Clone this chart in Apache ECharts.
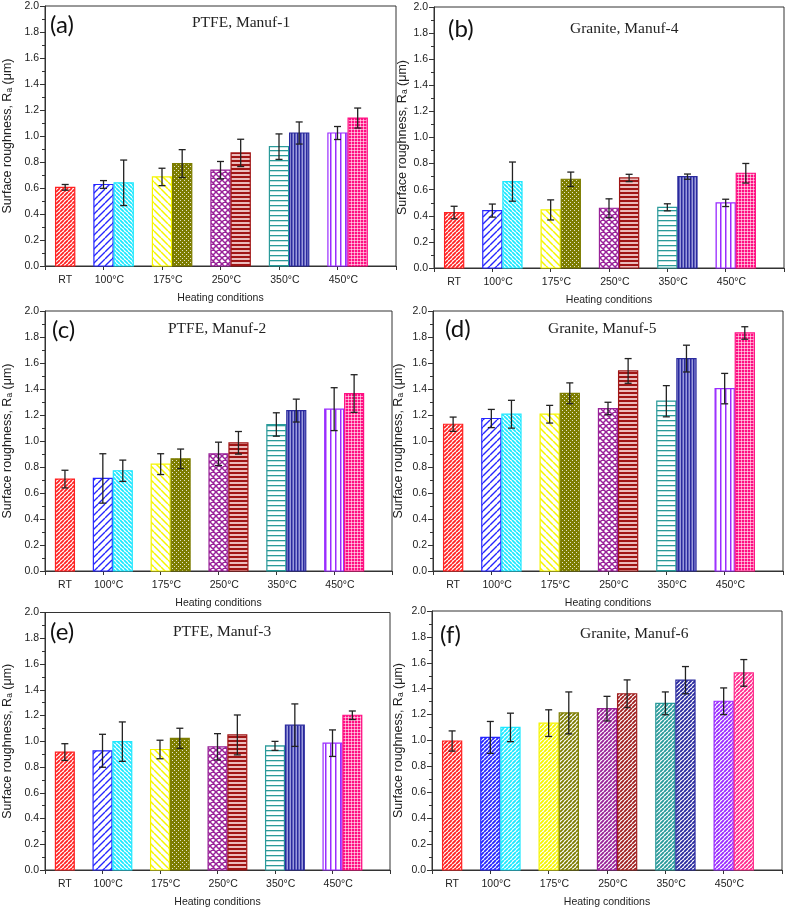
<!DOCTYPE html>
<html><head><meta charset="utf-8">
<script src="https://cdn.jsdelivr.net/npm/echarts@6/dist/echarts.min.js"></script>
<style>html,body{margin:0;padding:0;background:#fff}#c{width:789px;height:909px}</style>
</head><body><div id="c"></div>
<script>
// ---------------- DATA ----------------
const categories = ['RT', '100°C', '175°C', '250°C', '350°C', '450°C'];
const panelLetters = ['(a)', '(b)', '(c)', '(d)', '(e)', '(f)'];
const panelTitles = ['PTFE, Manuf-1', 'Granite, Manuf-4', 'PTFE, Manuf-2', 'Granite, Manuf-5', 'PTFE, Manuf-3', 'Granite, Manuf-6'];
const yAxisName = 'Surface roughness, R{sub|a} (μm)';
const xAxisName = 'Heating conditions';
const yMin = 0, yMax = 2.0, yStep = 0.2;
// bar order: RT, 100°C(1st,2nd), 175°C(1st,2nd), 250°C(1st,2nd), 350°C(1st,2nd), 450°C(1st,2nd)
const valuesA = [0.605, 0.627, 0.640, 0.685, 0.788, 0.737, 0.870, 0.918, 1.023, 1.023, 1.138];
const errorsA = [0.022, 0.030, 0.175, 0.067, 0.107, 0.067, 0.105, 0.098, 0.085, 0.050, 0.077];
const valuesB = [0.425, 0.440, 0.662, 0.445, 0.680, 0.458, 0.690, 0.465, 0.700, 0.499, 0.726];
const errorsB = [0.048, 0.050, 0.150, 0.077, 0.055, 0.072, 0.028, 0.027, 0.020, 0.028, 0.075];
const valuesC = [0.707, 0.712, 0.771, 0.822, 0.863, 0.901, 0.986, 1.127, 1.234, 1.245, 1.365];
const errorsC = [0.068, 0.190, 0.082, 0.080, 0.075, 0.090, 0.087, 0.090, 0.088, 0.165, 0.145];
const valuesD = [1.129, 1.173, 1.206, 1.206, 1.367, 1.250, 1.539, 1.306, 1.634, 1.403, 1.831];
const errorsD = [0.055, 0.070, 0.107, 0.068, 0.080, 0.048, 0.095, 0.120, 0.103, 0.117, 0.048];
const valuesE = [0.916, 0.926, 0.997, 0.936, 1.023, 0.957, 1.049, 0.964, 1.125, 0.985, 1.202];
const errorsE = [0.065, 0.128, 0.153, 0.072, 0.078, 0.102, 0.155, 0.035, 0.165, 0.103, 0.033];
const valuesF = [0.996, 1.024, 1.101, 1.134, 1.213, 1.246, 1.361, 1.287, 1.466, 1.303, 1.522];
const errorsF = [0.078, 0.123, 0.110, 0.103, 0.162, 0.095, 0.107, 0.088, 0.105, 0.103, 0.103];
const panelValues = [valuesA, valuesB, valuesC, valuesD, valuesE, valuesF];
const panelErrors = [errorsA, errorsB, errorsC, errorsD, errorsE, errorsF];

// ---------------- LAYOUT / STYLE ----------------
const BAR_W = 0.345; // bar width in x-axis units
const layouts = [
  {left: 45, top: 6, right: 396, bottom: 266, nameGap: 31, letter: [50, 13], title: [192, 15]},
  {left: 434, top: 7, right: 784, bottom: 268, nameGap: 24, letter: [448, 17], title: [570, 21]},
  {left: 44, top: 311, right: 392, bottom: 571, nameGap: 31, letter: [52, 318], title: [168, 321]},
  {left: 433, top: 311, right: 783, bottom: 571, nameGap: 28, letter: [445, 317], title: [548, 321]},
  {left: 44, top: 612.5, right: 390, bottom: 872.3, nameGap: 31, letter: [50, 620], title: [173, 624]},
  {left: 432, top: 611, right: 782, bottom: 872.3, nameGap: 27, letter: [440, 623], title: [580, 626]}
];
const TXT = '#222';
const AX = '#333';
const SANS = 'Liberation Sans, Arial, sans-serif';

function tile(w, h, bg, draw) {
  const c = document.createElement('canvas');
  c.width = w; c.height = h;
  const ctx = c.getContext('2d');
  if (bg) { ctx.fillStyle = bg; ctx.fillRect(0, 0, w, h); }
  draw(ctx, w, h);
  return {type: 'pattern', image: c, repeat: 'repeat'};
}
function diag(color, p, lw, back, bg) {
  return tile(p, p, bg || '#fff', (ctx) => {
    ctx.strokeStyle = color; ctx.lineWidth = lw;
    ctx.beginPath();
    for (let k = -1; k <= 1; k++) {
      if (back) { ctx.moveTo(k * p, 0); ctx.lineTo(k * p + p, p); }
      else { ctx.moveTo(k * p, p); ctx.lineTo(k * p + p, 0); }
    }
    ctx.stroke();
  });
}
function cross(color, p, lw) {
  return tile(p, p, '#fff', (ctx) => {
    ctx.strokeStyle = color; ctx.lineWidth = lw;
    ctx.beginPath();
    for (let k = -1; k <= 1; k++) {
      ctx.moveTo(k * p, 0); ctx.lineTo(k * p + p, p);
      ctx.moveTo(k * p, p); ctx.lineTo(k * p + p, 0);
    }
    ctx.stroke();
  });
}
function hstripe(color, p, lw, bg) {
  return tile(1, p, bg, (ctx) => { ctx.fillStyle = color; ctx.fillRect(0, 0, 1, lw); });
}
function vstripe(color, p, lw, bg) {
  return tile(p, 1, bg, (ctx) => { ctx.fillStyle = color; ctx.fillRect(0, 0, lw, 1); });
}
function dots(color, p) {
  return tile(p, p, color, (ctx) => { ctx.fillStyle = 'rgba(255,255,255,0.8)'; ctx.fillRect(0, 0, 1, 1); ctx.fillRect(p / 2, p / 2, 1, 1); });
}
function gridPat(color, p) {
  return tile(p, p, color, (ctx) => { ctx.fillStyle = 'rgba(255,255,255,0.55)'; ctx.fillRect(0, 0, p, 1); ctx.fillRect(0, 0, 1, p); });
}

const stylesMain = [
  {c: '#ff2222', f: diag('#ff2222', 4, 1.8, false)},
  {c: '#2626ff', f: diag('#2626ff', 7, 1.4, false)},
  {c: '#1ee8ff', f: diag('#1ee8ff', 4, 1.8, true)},
  {c: '#f5f500', f: diag('#f5f500', 7, 1.5, true)},
  {c: '#7d7d00', f: dots('#7d7d00', 4)},
  {c: '#992299', f: cross('#992299', 6, 1.5)},
  {c: '#a01515', f: hstripe('#a01515', 4, 2, '#ebbcbc')},
  {c: '#2a9a9a', f: hstripe('#2a9a9a', 5, 1.3, '#ffffff')},
  {c: '#2a2a9e', f: vstripe('#2a2a9e', 3, 1.5, '#9c9cdc')},
  {c: '#9a2cff', f: vstripe('#9a2cff', 5, 1.5, '#ffffff')},
  {c: '#ff0f82', f: gridPat('#ff0f82', 3)}
];
const fColors = ['#ff2222', '#2626ff', '#1ee8ff', '#f5f500', '#7d7d00', '#992299', '#a02020', '#2a9a9a', '#2a2a9e', '#9a2cff', '#ff2a8c'];
const stylesF = fColors.map(c => ({c: c, f: diag(c, 4, 1.9, false)}));

function barX(i) {
  if (i === 0) return BAR_W;             // RT
  const g = Math.ceil(i / 2);
  const slot = (i - 1) % 2;
  return g + slot * BAR_W;
}

const option = {
  animation: false,
  backgroundColor: '#fff',
  grid: [], xAxis: [], yAxis: [], series: [], title: []
};

layouts.forEach((L, p) => {
  option.grid.push({
    left: L.left, top: L.top, width: L.right - L.left, height: L.bottom - L.top,
    show: true, borderColor: AX, borderWidth: 1, backgroundColor: 'transparent'
  });
  const labelPos = categories.map((c, g) => g === 0 ? barX(0) : g + 0.1);
  option.xAxis.push({
    gridIndex: p, type: 'value', min: 0, max: categories.length, interval: 1,
    axisLine: {show: true, onZero: false, lineStyle: {color: AX, width: 1}},
    axisTick: {show: true, length: 4, lineStyle: {color: AX}},
    splitLine: {show: false},
    axisLabel: {
      customValues: labelPos, color: TXT, fontSize: 10.5, fontFamily: SANS, margin: 9,
      formatter: v => categories[Math.floor(v + 0.01)]
    },
    name: xAxisName, nameLocation: 'middle', nameGap: 27,
    nameTextStyle: {color: TXT, fontSize: 10.5, fontFamily: SANS}
  });
  option.yAxis.push({
    gridIndex: p, type: 'value', min: yMin, max: yMax, interval: yStep,
    axisLine: {show: true, lineStyle: {color: AX, width: 1}},
    axisTick: {show: true, length: 5, lineStyle: {color: AX}},
    minorTick: {show: true, splitNumber: 2, length: 3, lineStyle: {color: AX}},
    splitLine: {show: false}, minorSplitLine: {show: false},
    axisLabel: {color: TXT, fontSize: 10.5, fontFamily: SANS, margin: 6, formatter: v => v.toFixed(1)},
    name: yAxisName, nameLocation: 'middle', nameGap: L.nameGap, nameRotate: 90,
    nameTextStyle: {color: TXT, fontSize: 12.5, fontFamily: SANS,
      rich: {sub: {fontSize: 8.5, fontFamily: SANS, color: TXT, verticalAlign: 'bottom', padding: [4, 0, 0, 0]}}}
  });
  const styles = p === 5 ? stylesF : stylesMain;
  const vals = panelValues[p], errs = panelErrors[p];
  option.series.push({
    type: 'custom', xAxisIndex: p, yAxisIndex: p, silent: true,
    encode: {x: 0, y: 1},
    data: vals.map((v, i) => [barX(i), v, errs[i], i]),
    renderItem: (params, api) => {
      const x = api.value(0), v = api.value(1), e = api.value(2), i = api.value(3);
      const st = styles[i];
      const base = api.coord([x, 0]);
      const top = api.coord([x, v]);
      const bw = api.size([BAR_W, 0])[0];
      const hi = api.coord([x, v + e]);
      const lo = api.coord([x, v - e]);
      const cx = top[0];
      const cap = 3.5;
      return {
        type: 'group',
        children: [
          {type: 'rect', shape: {x: base[0] - bw / 2 + 0.5, y: top[1], width: bw - 1, height: base[1] - top[1]},
           style: {fill: st.f, stroke: st.c, lineWidth: 1.2}},
          {type: 'line', shape: {x1: cx, y1: hi[1], x2: cx, y2: lo[1]}, style: {stroke: '#222', lineWidth: 1.3}},
          {type: 'line', shape: {x1: cx - cap, y1: hi[1], x2: cx + cap, y2: hi[1]}, style: {stroke: '#222', lineWidth: 1.3}},
          {type: 'line', shape: {x1: cx - cap, y1: lo[1], x2: cx + cap, y2: lo[1]}, style: {stroke: '#222', lineWidth: 1.3}}
        ]
      };
    }
  });
  option.title.push({
    text: panelLetters[p], left: L.letter[0], top: L.letter[1], padding: 0,
    textStyle: {fontFamily: 'Lato, sans-serif', fontSize: 24, fontWeight: 'normal', color: '#111'}
  });
  option.title.push({
    text: panelTitles[p], left: L.title[0], top: L.title[1], padding: 0,
    textStyle: {fontFamily: 'Liberation Serif, Times New Roman, serif', fontSize: 15.5, fontWeight: 'normal', color: TXT}
  });
});

const chart = echarts.init(document.getElementById('c'), null, {renderer: 'canvas'});
chart.setOption(option);
</script>
</body></html>
